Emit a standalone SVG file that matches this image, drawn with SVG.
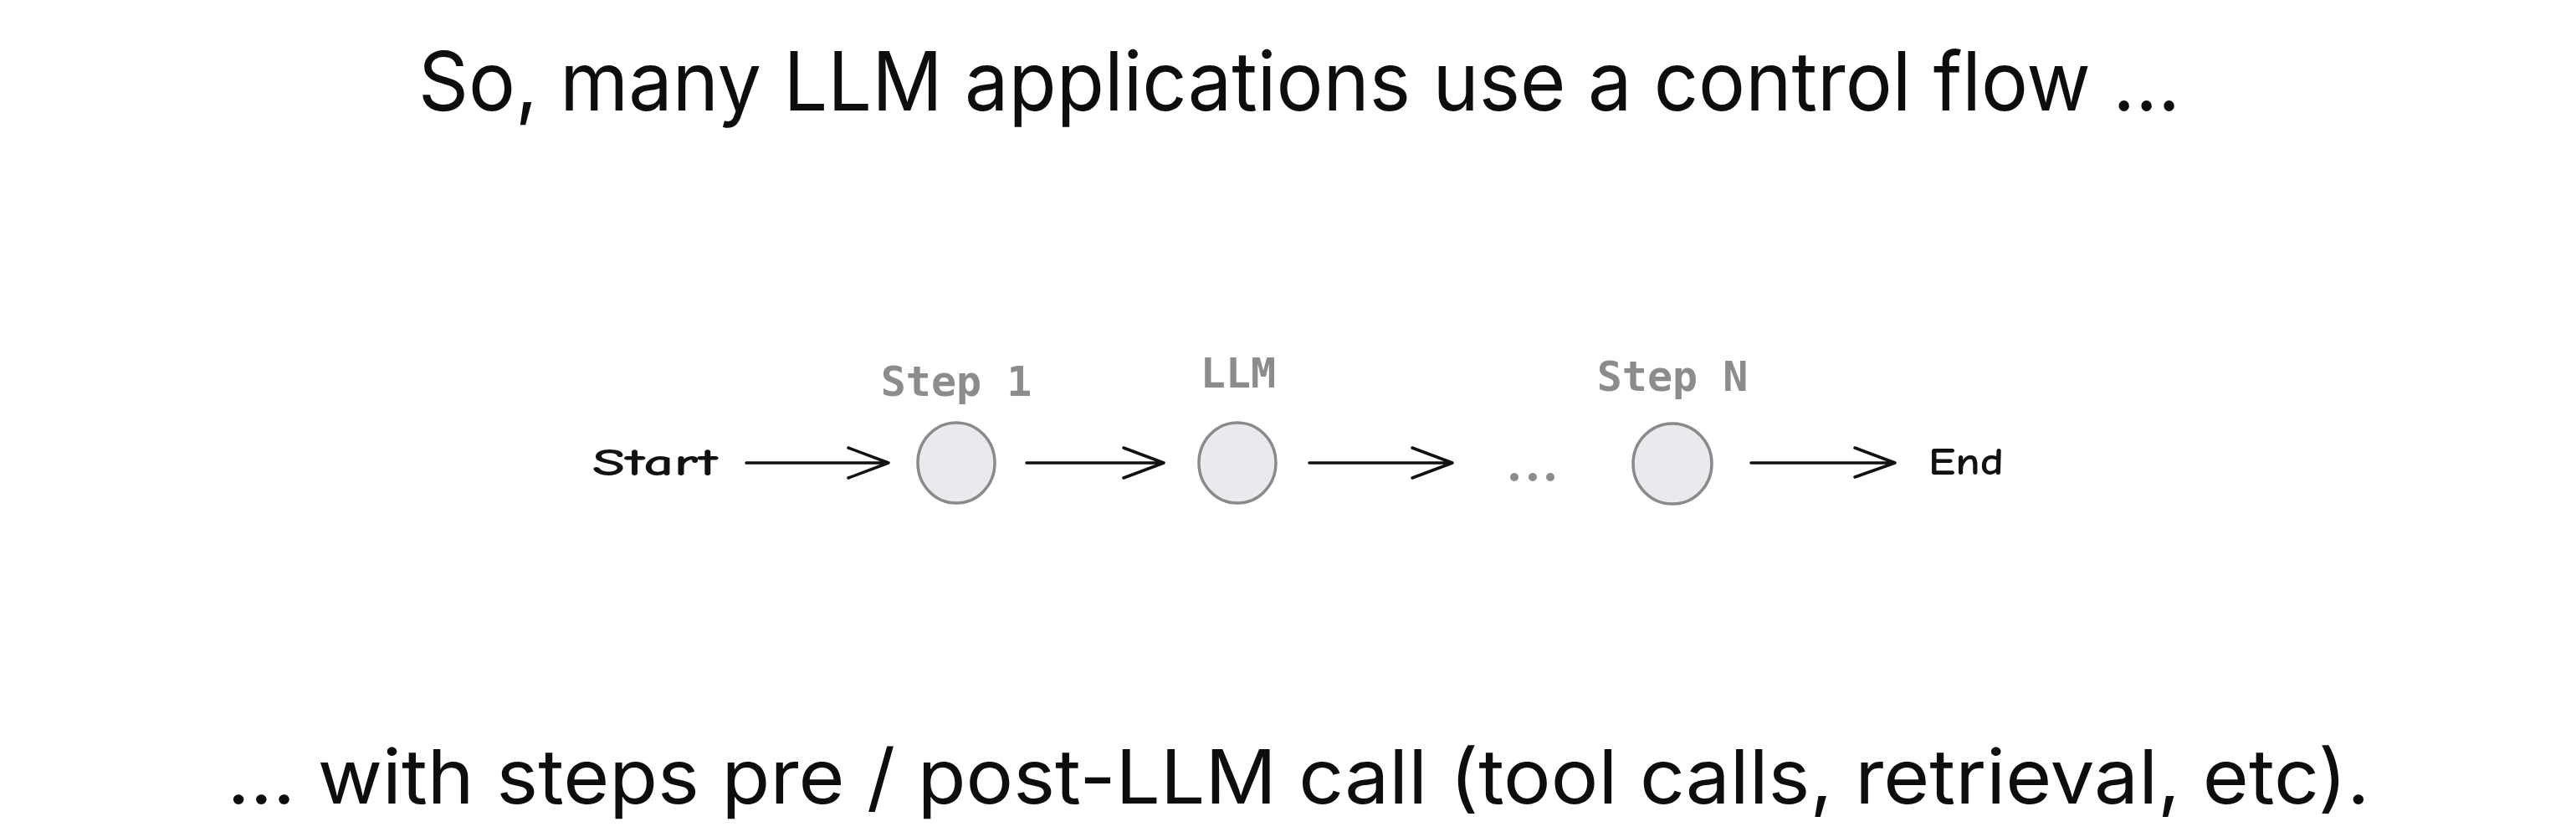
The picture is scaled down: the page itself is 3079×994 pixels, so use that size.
<svg xmlns="http://www.w3.org/2000/svg" width="3079" height="994" viewBox="0 0 3079 994">
<style>
.title{font-family:Inter,"Noto Sans","Liberation Sans",sans-serif;fill:#0d0d0d;text-anchor:middle}
.lbl{font-family:"DejaVu Sans Mono","Liberation Mono",monospace;font-size:50px;font-weight:bold;fill:#8c8c8c;text-anchor:middle}
.hand{font-family:"Comic Neue","DejaVu Sans","Liberation Sans",sans-serif;font-size:46px;font-weight:600;fill:#111}
.node{fill:#e8eaed;stroke:#8a8a8a;stroke-width:3.5}
.arr{fill:none;stroke:#111;stroke-width:3.5;stroke-linecap:round;stroke-linejoin:round}
</style>
<rect width="3079" height="994" fill="#ffffff"/>
<text class="title" x="1553" y="132" font-size="98" textLength="2106" lengthAdjust="spacingAndGlyphs">So, many LLM applications use a control flow …</text>
<text class="title" x="1552" y="960" font-size="90" textLength="2561" lengthAdjust="spacingAndGlyphs">… with steps pre / post-LLM call (tool calls, retrieval, etc).</text>
<g id="start"><text class="hand" x="708" y="568" textLength="150" lengthAdjust="spacingAndGlyphs">Start</text></g>
<g id="step1"><ellipse class="node" cx="1143" cy="553" rx="46" ry="48"/><text class="lbl" x="1143" y="473">Step 1</text></g>
<g id="llm"><ellipse class="node" cx="1479" cy="553" rx="46" ry="48"/><text class="lbl" x="1480" y="463">LLM</text></g>
<g id="ellipsis"><circle cx="1810" cy="570" r="5" fill="#8c8c8c"/><circle cx="1832" cy="570" r="5" fill="#8c8c8c"/><circle cx="1853" cy="570" r="5" fill="#8c8c8c"/></g>
<g id="stepN"><ellipse class="node" cx="1999" cy="554" rx="47" ry="48"/><text class="lbl" x="1999" y="467">Step N</text></g>
<g id="end"><text class="hand" x="2305" y="567" textLength="90" lengthAdjust="spacingAndGlyphs">End</text></g>
<g id="connectors">
<path class="arr" d="M892 553 L1062 553 M1014 535 L1062 553 L1014 571"/>
<path class="arr" d="M1227 553 L1391 553 M1343 535 L1391 553 L1343 571"/>
<path class="arr" d="M1565 553 L1736 553 M1688 535 L1736 553 L1688 571" stroke-width="5"/>
<path class="arr" d="M2093 553 L2265 553 M2217 535 L2265 553 L2217 570"/>
</g>
</svg>
